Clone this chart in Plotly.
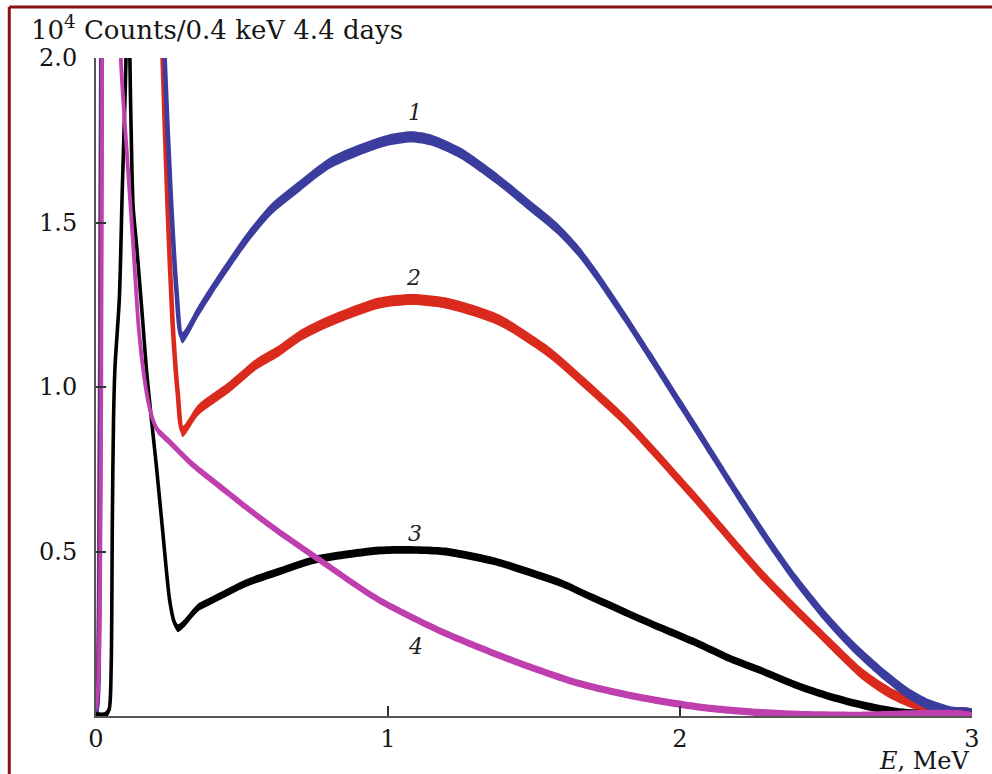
import plotly.graph_objects as go

# ---------------- data ----------------
# Curve 1 (blue)
e1 = [0.0, 0.004, 0.009, 0.013, 0.017, 0.021, 0.03, 0.20, 0.222, 0.235, 0.255, 0.275, 0.295,
      0.35, 0.40, 0.514, 0.60, 0.696, 0.80, 0.90, 1.0, 1.08, 1.15, 1.25, 1.377, 1.48,
      1.582, 1.65, 1.718, 1.809, 1.90, 2.0, 2.1, 2.2, 2.3, 2.40, 2.5, 2.60,
      2.70, 2.78, 2.855, 2.93, 3.0]
c1 = [0.01, 0.03, 0.12, 0.6, 1.5, 2.5, 3.5, 3.5, 2.4, 2.0, 1.6, 1.3, 1.15,
      1.23, 1.30, 1.448, 1.54, 1.61, 1.68, 1.72, 1.75, 1.76, 1.75, 1.71, 1.63, 1.555,
      1.48, 1.415, 1.335, 1.215, 1.09, 0.95, 0.81, 0.67, 0.535, 0.41, 0.30, 0.205,
      0.125, 0.07, 0.033, 0.012, 0.005]

# Curve 2 (red)
e2 = [0.0, 0.005, 0.01, 0.014, 0.018, 0.022, 0.03, 0.20, 0.215, 0.228, 0.245, 0.262, 0.28, 0.297,
      0.35, 0.457, 0.55, 0.627, 0.696, 0.80, 0.968, 1.082, 1.20, 1.377, 1.537, 1.582,
      1.809, 2.037, 2.286, 2.514, 2.628, 2.72, 2.798, 2.90, 3.0]
c2 = [0.01, 0.05, 0.3, 1.0, 2.0, 2.8, 3.5, 3.5, 2.4, 2.0, 1.55, 1.2, 0.98, 0.865,
      0.93, 1.0, 1.07, 1.11, 1.154, 1.20, 1.255, 1.266, 1.255, 1.205, 1.115, 1.083,
      0.90, 0.678, 0.424, 0.221, 0.125, 0.07, 0.039, 0.012, 0.005]

# Curve 3 (black)
e3 = [0.0, 0.03, 0.045, 0.052, 0.056, 0.06, 0.065, 0.08, 0.09, 0.10, 0.108, 0.113,
      0.116, 0.121, 0.127, 0.14, 0.16, 0.173, 0.19, 0.207, 0.229, 0.252, 0.268, 0.281,
      0.30, 0.35, 0.40, 0.514, 0.627, 0.741, 0.85, 0.968, 1.05, 1.195, 1.366, 1.45,
      1.593, 1.70, 1.821, 1.95, 2.059, 2.17, 2.286, 2.40, 2.514, 2.63, 2.741, 2.85, 3.0]
c3 = [0.0, 0.0, 0.02, 0.15, 0.6, 0.9, 1.06, 1.27, 1.6, 1.9, 2.2, 2.4,
      2.0, 1.75, 1.55, 1.42, 1.2, 1.05, 0.9, 0.758, 0.556, 0.353, 0.285, 0.267,
      0.28, 0.33, 0.353, 0.404, 0.439, 0.473, 0.49, 0.503, 0.505, 0.50, 0.47, 0.447,
      0.404, 0.36, 0.312, 0.262, 0.221, 0.175, 0.135, 0.093, 0.059, 0.032, 0.013, 0.005, 0.0]

# Curve 4 (magenta)
e4 = [0.0, 0.008, 0.014, 0.018, 0.021, 0.025, 0.07, 0.085, 0.105, 0.126, 0.147, 0.165,
      0.18, 0.195, 0.21, 0.25, 0.33, 0.45, 0.55, 0.65, 0.764, 0.968, 1.195, 1.423,
      1.65, 1.877, 2.059, 2.25, 2.40, 2.60, 3.0]
c4 = [0.02, 0.1, 0.4, 1.0, 2.0, 3.0, 3.0, 2.0, 1.72, 1.45, 1.17, 1.03,
      0.95, 0.90, 0.87, 0.835, 0.765, 0.68, 0.61, 0.545, 0.475, 0.353, 0.252, 0.17,
      0.10, 0.054, 0.028, 0.012, 0.005, 0.002, 0.0]

curve_labels = ["1", "2", "3", "4"]
label_e = [1.093, 1.088, 1.093, 1.093]
label_c = [1.834, 1.332, 0.556, 0.211]

x_ticks = [0, 1, 2, 3]
y_ticks = [0.5, 1.0, 1.5, 2.0]
y_tick_text = ["0.5", "1.0", "1.5", "2.0"]

# ---------------- styles ----------------
BLUE = "#3b3d9e"
RED = "#da2a1e"
BLACK = "#000000"
MAGENTA = "#bf3fae"
FONT = "DejaVu Serif"
TXT = "#151515"

fig = go.Figure()


def add_curve(E, C, color, half, lw):
    xs = list(E) + list(E)[::-1]
    ys = [v + half for v in C] + [v - half for v in C][::-1]
    fig.add_trace(go.Scatter(x=xs, y=ys, mode="lines", fill="toself",
                             fillcolor=color,
                             line=dict(width=0, color=color, shape="spline", smoothing=0.7),
                             hoverinfo="skip", showlegend=False))
    fig.add_trace(go.Scatter(x=E, y=C, mode="lines",
                             line=dict(width=lw, color=color, shape="spline", smoothing=0.7),
                             hoverinfo="skip", showlegend=False))


add_curve(e2, c2, RED, 0.017, 4.6)
add_curve(e1, c1, BLUE, 0.017, 4.6)
add_curve(e3, c3, BLACK, 0.012, 3.6)
add_curve(e4, c4, MAGENTA, 0.011, 3.8)

for t, xe, yc in zip(curve_labels, label_e, label_c):
    fig.add_annotation(x=xe, y=yc, text="<i>" + t + "</i>", showarrow=False,
                       font=dict(family=FONT, size=22, color="#222"))

fig.add_annotation(xref="paper", yref="paper", x=-0.076, y=1.046,
                   xanchor="left", yanchor="middle", showarrow=False,
                   text="10<sup>4</sup> Counts/0.4 keV 4.4 days",
                   font=dict(family=FONT, size=26, color=TXT))
fig.add_annotation(xref="paper", yref="paper", x=1.0, y=-0.068,
                   xanchor="right", yanchor="middle", showarrow=False,
                   text="<i>E</i>, MeV",
                   font=dict(family=FONT, size=24, color=TXT))

# page frame (dark red, top and left)
fig.add_shape(type="line", xref="paper", yref="paper", x0=-0.099, x1=1.05,
              y0=1.0775, y1=1.0775, line=dict(color="#8b1010", width=3))
fig.add_shape(type="line", xref="paper", yref="paper", x0=-0.099, x1=-0.099,
              y0=1.0775, y1=-0.1, line=dict(color="#8b1010", width=3))

fig.update_layout(
    width=992, height=774,
    margin=dict(l=96, r=16, t=58, b=58),
    paper_bgcolor="white", plot_bgcolor="white",
    showlegend=False,
)
fig.update_xaxes(range=[0, 3], tickvals=x_ticks, ticks="inside", ticklen=10,
                 tickwidth=1.5, tickcolor="#333", showline=True, linecolor="#555",
                 linewidth=2, showgrid=False, zeroline=False,
                 tickfont=dict(family=FONT, size=24, color=TXT))
fig.update_yaxes(range=[0, 2.0], tickvals=y_ticks, ticktext=y_tick_text,
                 ticks="inside", ticklen=10, tickwidth=1.5, tickcolor="#333",
                 showline=True, linecolor="#555", linewidth=2, showgrid=False,
                 zeroline=False, ticklabelstandoff=12,
                 tickfont=dict(family=FONT, size=24, color=TXT))

fig.write_html("out.html")
